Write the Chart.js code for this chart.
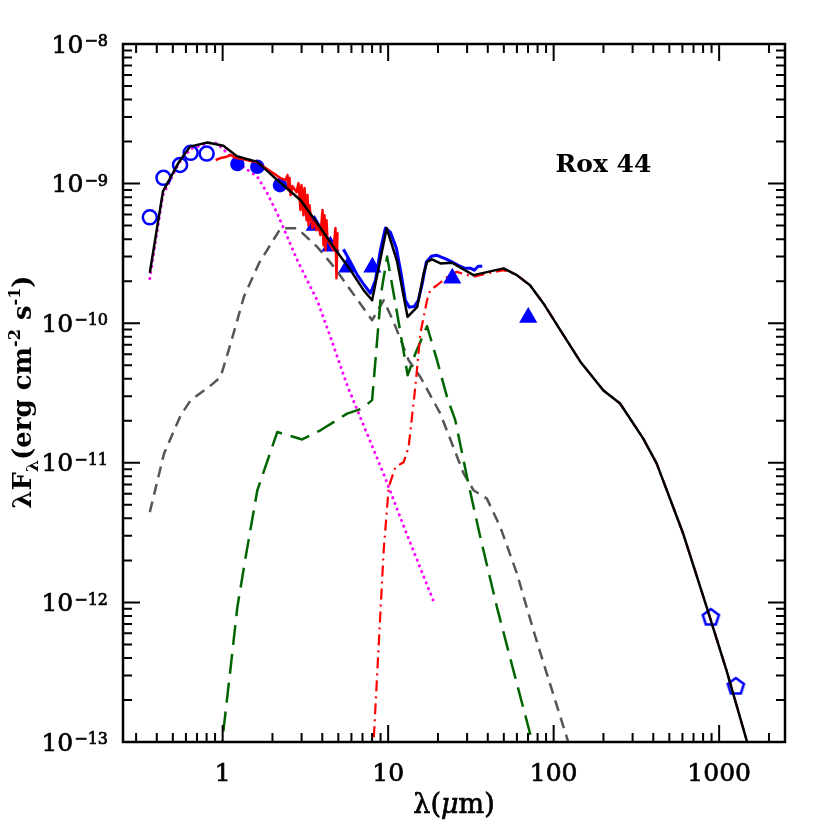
<!DOCTYPE html>
<html>
<head>
<meta charset="utf-8">
<title>Rox 44 SED</title>
<script src="https://cdn.jsdelivr.net/npm/chart.js@4.4.1/dist/chart.umd.min.js"></script>
<style>
  html, body { margin: 0; padding: 0; background: #fff; }
  #wrap { width: 830px; height: 830px; }
</style>
</head>
<body>
<div id="wrap"><canvas id="sed" width="830" height="830"></canvas></div>
<script>
// wavelengths in micron, lambda*F_lambda in erg cm^-2 s^-1

// total model (black solid)
const totalLam = [0.363, 0.436, 0.545, 0.635, 0.81, 1.01, 1.22, 1.62, 2.14, 2.96,
  3.73, 4.69, 5.92, 7.12, 8.0, 9.8, 11.3, 13.1, 15.0, 16.4,
  17.2, 18.4, 20.7, 24.3, 32.8, 49.8, 60, 72, 87, 105,
  145, 200, 252, 348, 419, 607, 840, 1109, 1465, 1600];
const totalFlux = [2.3e-10, 8.8e-10, 1.43e-9, 1.84e-9, 1.97e-9, 1.87e-9, 1.57e-9, 1.43e-9, 1.06e-9, 7.6e-10,
  5.2e-10, 3.5e-10, 2.4e-10, 1.72e-10, 1.46e-10, 4.8e-10, 2.8e-10, 1.11e-10, 1.31e-10, 2.28e-10,
  2.75e-10, 2.86e-10, 2.68e-10, 2.71e-10, 2.21e-10, 2.47e-10, 2.21e-10, 1.87e-10, 1.38e-10, 9.7e-11,
  5.3e-11, 3.3e-11, 2.66e-11, 1.49e-11, 9.9e-12, 3.1e-12, 9.3e-13, 3.25e-13, 1.03e-13, 7.1e-14];

// stellar photosphere (magenta dotted)
const starLam = [0.363, 0.435, 0.543, 0.641, 0.812, 0.92, 1.067, 1.284, 1.62, 1.861,
  2.138, 2.456, 2.823, 3.396, 3.727, 4.483, 5.65, 7.1, 9.36, 12.7, 18.8];
const starFlux = [2.09e-10, 8.27e-10, 1.40e-9, 1.77e-9, 1.95e-9, 1.95e-9, 1.65e-9, 1.36e-9, 1.12e-9, 8.51e-10,
  6.11e-10, 4.16e-10, 2.83e-10, 1.82e-10, 1.46e-10, 7.94e-11, 3.6e-11, 1.86e-11, 8.41e-12, 3.28e-12, 1.02e-12];

// grey short-dashed component
const greyLam = [0.363, 0.442, 0.558, 0.641, 0.827, 0.972, 1.118, 1.345, 1.656, 2.238,
  2.823, 3.727, 4.693, 5.92, 8.0, 9.40, 10.8, 13.3, 15.65, 20.67,
  28.6, 32.8, 39.5, 47.6, 60.0, 75.5, 91.0, 120.1, 126];
const greyFlux = [4.43e-12, 1.16e-11, 2.19e-11, 2.81e-11, 3.49e-11, 4.12e-11, 7.15e-11, 1.55e-10, 2.68e-10, 4.78e-10,
  4.78e-10, 3.52e-10, 2.54e-10, 1.73e-10, 1.05e-10, 1.46e-10, 1.02e-10, 5.43e-11, 4.12e-11, 2.25e-11,
  8.37e-12, 6.36e-12, 5.54e-12, 3.47e-12, 1.61e-12, 6.30e-13, 3.08e-13, 1.08e-13, 9e-14];

// green long-dashed component
const greenLam = [0.973, 0.996, 1.118, 1.227, 1.377, 1.62, 2.138, 3.026, 3.902, 5.65,
  6.96, 8.0, 9.06, 9.86, 11.33, 13.12, 14.6, 17.18, 19.74, 22.69,
  25.45, 29.95, 36.03, 45.43, 59.98, 73.88, 76.4];
const greenFlux = [7.4e-14, 1.03e-13, 3.43e-13, 9.25e-13, 2.11e-12, 6.35e-12, 1.66e-11, 1.47e-11, 1.71e-11, 2.25e-11,
  2.45e-11, 2.81e-11, 1.63e-10, 3.0e-10, 1.18e-10, 4.24e-11, 6.06e-11, 9.51e-11, 5.43e-11, 2.96e-11,
  2.02e-11, 7.91e-12, 2.94e-12, 9.25e-13, 2.61e-13, 1.03e-13, 8.4e-14];

// outer disk (red dash-dot)
const outerLam = [8.09, 8.18, 9.40, 10.08, 11.06, 12.41, 13.3, 14.6, 15.65, 17.18,
  17.99, 19.74, 22.15, 24.31, 26.06, 32.8, 39.5, 49.8, 60, 72,
  87, 105, 145, 200, 252, 348, 419, 607, 840, 1109, 1465, 1600];
const outerFlux = [7.4e-14, 1.03e-13, 2.36e-12, 6.70e-12, 9.33e-12, 1.01e-11, 1.30e-11, 3.49e-11, 8.43e-11, 1.46e-10,
  1.73e-10, 1.87e-10, 2.09e-10, 2.27e-10, 2.33e-10, 2.15e-10, 2.27e-10, 2.40e-10, 2.21e-10, 1.87e-10,
  1.38e-10, 9.7e-11, 5.3e-11, 3.3e-11, 2.66e-11, 1.49e-11, 9.9e-12, 3.1e-12, 9.3e-13, 3.25e-13, 1.03e-13, 7.1e-14];

// near-IR spectrum (red solid)
const nirSpecLam = [0.907, 0.973, 1.042, 1.118, 1.215, 1.320, 1.476, 1.604, 1.743, 1.894,
  2.059, 2.238, 2.400, 2.467, 2.502, 2.537, 2.572, 2.644, 2.796, 2.874,
  2.955, 2.996, 3.081, 3.124, 3.168, 3.212, 3.257, 3.303, 3.349, 3.396,
  3.491, 3.591, 3.692, 3.795, 3.902, 4.012, 4.068, 4.125, 4.182, 4.241,
  4.300, 4.483, 4.674, 4.806, 4.873, 4.941];
const nirSpecFlux = [1.475e-9, 1.524e-9, 1.549e-9, 1.601e-9, 1.524e-9, 1.500e-9, 1.451e-9, 1.426e-9, 1.335e-9, 1.250e-9,
  1.170e-9, 1.095e-9, 1.059e-9, 1.150e-9, 8.98e-10, 1.095e-9, 8.27e-10, 9.59e-10, 8.69e-10, 1.008e-9,
  6.46e-10, 9.75e-10, 5.94e-10, 9.29e-10, 7.62e-10, 5.47e-10, 8.27e-10, 5.04e-10, 7.01e-10, 5.94e-10,
  4.80e-10, 5.47e-10, 4.64e-10, 5.04e-10, 4.27e-10, 6.46e-10, 3.62e-10, 5.94e-10, 3.34e-10, 5.47e-10,
  3.94e-10, 3.62e-10, 3.34e-10, 4.80e-10, 2.10e-10, 4.49e-10];

// mid-IR spectrum (blue solid)
const irsLam = [5.37, 5.92, 6.52, 7.19, 7.81, 8.38, 8.98, 9.625, 10.31, 11.21,
  12.02, 12.71, 13.43, 14.40, 15.22, 16.09, 17.01, 18.24, 19.55, 20.96,
  22.46, 24.41, 26.53, 28.84, 31.35, 33.15, 35.04, 37.04];
const irsFlux = [3.39e-10, 2.74e-10, 2.21e-10, 1.87e-10, 1.64e-10, 2.03e-10, 3.34e-10, 4.80e-10, 4.49e-10, 3.45e-10,
  2.21e-10, 1.46e-10, 1.30e-10, 1.32e-10, 1.46e-10, 1.93e-10, 2.74e-10, 3.02e-10, 3.07e-10, 2.97e-10,
  2.88e-10, 2.74e-10, 2.60e-10, 2.48e-10, 2.48e-10, 2.40e-10, 2.56e-10, 2.56e-10];

// photometry
const optLam = [0.363, 0.439, 0.553, 0.641, 0.801];
const optFlux = [5.73e-10, 1.10e-9, 1.36e-9, 1.66e-9, 1.64e-9];
const nirLam = [1.227, 1.62, 2.22];
const nirFlux = [1.38e-9, 1.32e-9, 9.75e-10];
const spitzerLam = [3.6, 4.48, 5.68, 8.03, 24.4, 70.2];
const spitzerFlux = [5.0e-10, 3.56e-10, 2.52e-10, 2.52e-10, 2.10e-10, 1.10e-10];
const mmLam = [891, 1262];
const mmFlux = [7.8e-13, 2.5e-13];

// axes
const xTickValues = [1, 10, 100, 1000];
const xTickLabels = ['1', '10', '100', '1000'];
const yTickValues = [1e-13, 1e-12, 1e-11, 1e-10, 1e-9, 1e-8];
const yTickExponents = ['−13', '−12', '−11', '−10', '−9', '−8'];
const objectName = 'Rox 44';

const FONT = 'DejaVu Serif';
const BLUE = '#0000ff';

function pts(lam, flux) {
  return lam.map((l, i) => ({ x: l, y: flux[i] }));
}

function lineSet(lam, flux, color, width, dash, order, cap) {
  return {
    data: pts(lam, flux), showLine: true, pointRadius: 0, fill: false, tension: 0,
    borderColor: color, borderWidth: width, borderDash: dash, borderCapStyle: cap || 'butt',
    borderJoinStyle: 'round', order
  };
}

function markerSet(lam, flux, style, radius, filled, order) {
  return {
    data: pts(lam, flux), showLine: false, pointStyle: style, pointRadius: radius,
    pointBorderColor: BLUE, pointBackgroundColor: filled ? BLUE : 'rgba(0,0,0,0)',
    pointBorderWidth: 2.5, order
  };
}

function pentagon(r) {
  const c = document.createElement('canvas');
  const s = Math.ceil(2 * r + 6);
  c.width = c.height = s;
  const g = c.getContext('2d');
  g.strokeStyle = BLUE;
  g.lineWidth = 2.5;
  g.beginPath();
  for (let i = 0; i < 5; i++) {
    const a = -Math.PI / 2 + i * 2 * Math.PI / 5;
    const px = s / 2 + r * Math.cos(a), py = s / 2 + r * Math.sin(a);
    i ? g.lineTo(px, py) : g.moveTo(px, py);
  }
  g.closePath();
  g.stroke();
  return c;
}

// draws text pieces of mixed size side by side, centred on x
function richText(ctx, parts, x, y, heavy) {
  const fontOf = p => `${p.style || ''} ${p.weight || 'bold'} ${p.size}px "${FONT}"`;
  let w = 0;
  parts.forEach(p => { ctx.font = fontOf(p); w += ctx.measureText(p.t).width; });
  let cx = x - w / 2;
  parts.forEach(p => {
    ctx.font = fontOf(p);
    ctx.fillText(p.t, cx, y + (p.dy || 0));
    if (heavy) ctx.strokeText(p.t, cx, y + (p.dy || 0));
    cx += ctx.measureText(p.t).width;
  });
}

// frame, inward ticks on all four sides, y labels, titles and object name
const framePlugin = {
  id: 'frame',
  afterDatasetsDraw(chart) {
    const { ctx, chartArea: a, scales: { x, y } } = chart;
    ctx.save();
    ctx.strokeStyle = '#000';
    ctx.lineWidth = 2;
    ctx.beginPath();
    for (let e = -1; e <= 3; e++) {
      for (let m = 1; m <= 9; m++) {
        const v = m * Math.pow(10, e);
        if (v < x.min || v > x.max) continue;
        const px = x.getPixelForValue(v);
        const len = m === 1 ? 17 : 9;
        ctx.moveTo(px, a.bottom); ctx.lineTo(px, a.bottom - len);
        ctx.moveTo(px, a.top); ctx.lineTo(px, a.top + len);
      }
    }
    for (let e = -13; e <= -8; e++) {
      for (let m = 1; m <= 9; m++) {
        const v = m * Math.pow(10, e);
        if (v < y.min * 0.999 || v > y.max * 1.001) continue;
        const py = y.getPixelForValue(v);
        const len = m === 1 ? 17 : 9;
        ctx.moveTo(a.left, py); ctx.lineTo(a.left + len, py);
        ctx.moveTo(a.right, py); ctx.lineTo(a.right - len, py);
      }
    }
    ctx.stroke();
    ctx.lineWidth = 2.5;
    ctx.strokeRect(a.left, a.top, a.right - a.left, a.bottom - a.top);

    ctx.fillStyle = '#000';
    ctx.lineWidth = 0.7;

    // y tick labels: 10 with raised exponent
    ctx.textBaseline = 'middle';
    ctx.textAlign = 'right';
    yTickValues.forEach((v, i) => {
      const py = y.getPixelForValue(v);
      const rx = a.left - 15;
      ctx.font = `16px "${FONT}"`;
      const ew = ctx.measureText(yTickExponents[i]).width;
      ctx.fillText(yTickExponents[i], rx, py - 2);
      ctx.strokeText(yTickExponents[i], rx, py - 2);
      ctx.font = `25px "${FONT}"`;
      ctx.fillText('10', rx - ew - 1, py + 2);
      ctx.strokeText('10', rx - ew - 1, py + 2);
    });

    ctx.textAlign = 'left';
    ctx.textBaseline = 'alphabetic';
    // x title
    richText(ctx, [
      { t: 'λ(', size: 27, weight: 'normal' },
      { t: 'μ', size: 27, weight: 'normal', style: 'italic' },
      { t: 'm)', size: 27, weight: 'normal' }
    ], (a.left + a.right) / 2, 813, true);
    // y title
    ctx.save();
    ctx.translate(31, 392);
    ctx.rotate(-Math.PI / 2);
    richText(ctx, [
      { t: 'λF', size: 26 },
      { t: 'λ', size: 17, dy: 7 },
      { t: '(erg cm', size: 26 },
      { t: '-2', size: 16, dy: -11 },
      { t: ' s', size: 26 },
      { t: '-1', size: 16, dy: -11 },
      { t: ')', size: 26 }
    ], 0, 0, false);
    ctx.restore();
    // object label
    ctx.font = `bold 25px "${FONT}"`;
    ctx.textAlign = 'center';
    ctx.fillText(objectName, x.getPixelForValue(200), y.getPixelForValue(1.21e-9));
    ctx.restore();
  }
};

new Chart(document.getElementById('sed'), {
  type: 'scatter',
  data: {
    datasets: [
      lineSet(totalLam, totalFlux, '#000000', 2.5, [], 0),
      lineSet(nirSpecLam, nirSpecFlux, '#ff0000', 2.5, [], 1),
      lineSet(irsLam, irsFlux, BLUE, 3, [], 1),
      markerSet(optLam, optFlux, 'circle', 7, false, 2),
      markerSet(nirLam, nirFlux, 'circle', 6, true, 2),
      markerSet(spitzerLam, spitzerFlux, 'triangle', 8, true, 2),
      markerSet(mmLam, mmFlux, pentagon(8.5), 8.5, false, 2),
      lineSet(starLam, starFlux, '#ff00ff', 3, [0.1, 6], 3, 'round'),
      lineSet(outerLam, outerFlux, '#ff0000', 2.2, [11, 5, 2, 5], 4),
      lineSet(greenLam, greenFlux, '#006400', 2.5, [20, 9], 5),
      lineSet(greyLam, greyFlux, '#555555', 2.5, [11, 7], 6)
    ]
  },
  options: {
    responsive: false,
    animation: false,
    events: [],
    layout: { padding: { left: 0, right: 45, top: 44, bottom: 0 } },
    plugins: { legend: { display: false }, tooltip: { enabled: false } },
    scales: {
      x: {
        type: 'logarithmic', position: 'bottom', min: 0.25, max: 2500,
        grid: { display: false }, border: { display: false },
        afterBuildTicks: s => { s.ticks = xTickValues.map(v => ({ value: v })); },
        afterFit: s => { s.height = 88; },
        ticks: {
          autoSkip: false, maxRotation: 0, padding: 9, color: '#000',
          font: { family: FONT, size: 25 }, textStrokeColor: '#000', textStrokeWidth: 0.7,
          callback: (v, i) => xTickLabels[i]
        }
      },
      y: {
        type: 'logarithmic', position: 'left', min: 1e-13, max: 1e-8,
        grid: { display: false }, border: { display: false },
        afterBuildTicks: s => { s.ticks = yTickValues.map(v => ({ value: v })); },
        afterFit: s => { s.width = 123; },
        ticks: { display: false }
      }
    }
  },
  plugins: [framePlugin]
});
</script>
</body>
</html>
